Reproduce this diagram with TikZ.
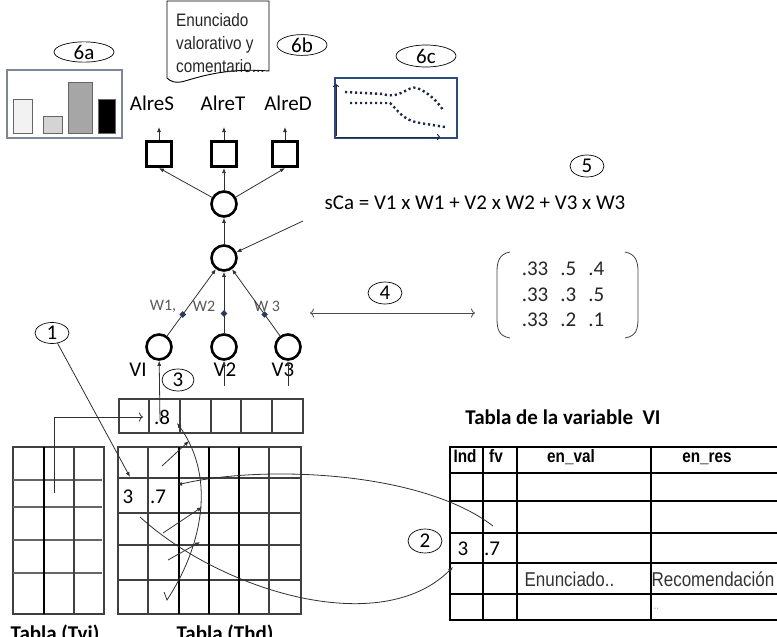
\documentclass[tikz,border=0pt]{standalone}
\usepackage{fontspec}
\setmainfont{Carlito}
\newfontfamily\arialn[FakeStretch=0.85]{Liberation Sans}
\usetikzlibrary{arrows.meta,shapes.geometric}
\newcommand\txtbig{\fontsize{21}{25}\selectfont}
\definecolor{lnk}{HTML}{303030}
\definecolor{navy}{HTML}{2F4A7A}
\definecolor{dotc}{HTML}{1E2A44}
\definecolor{frame}{HTML}{7A8898}

\begin{document}
\begin{tikzpicture}[x=1pt,y=-1pt,font=\txtbig,
  neuron/.style={circle,draw,line width=2.6pt,fill=white,minimum size=25pt,inner sep=0pt},
  outbox/.style={draw,line width=2.6pt,minimum size=25.5pt,inner sep=0pt},
  tag/.style={ellipse,draw,line width=0.7pt,inner sep=0pt,minimum width=34pt,minimum height=22pt},
  link/.style={line width=0.8pt,draw=lnk,-{Latex[length=5pt,width=4pt]}},
  open/.style={line width=0.8pt,draw=lnk,-{To[length=4pt,width=9pt]}},
  wt/.style={diamond,fill=navy!80!black,inner sep=0pt,minimum size=7pt},
  grid/.style={line width=1.1pt,draw=black!75},
  thick grid/.style={line width=2.2pt,draw=black},
  head/.style={font=\arialn\bfseries\fontsize{18}{22}\selectfont,anchor=base},
  cell/.style={font=\arialn\fontsize{20}{24}\selectfont,text=black!80,anchor=west}]
\useasboundingbox (0,0) rectangle (777,637);

\node[neuron] (h1) at (224,204) {};
\node[neuron] (h2) at (224,258) {};
\node[neuron] (v1) at (159,347) {};
\node[neuron] (v2) at (224,347) {};
\node[neuron] (v3) at (288,347) {};
\node[outbox] (o1) at (159,154) {};
\node[outbox] (o2) at (224,154) {};
\node[outbox] (o3) at (285,154) {};
\coordinate (t1) at (159,127);
\coordinate (t2) at (224,127);
\coordinate (t3) at (285,127);
\node (alres) at (152,103) {AlreS};
\node (alret) at (223,103) {AlreT};
\node (alred) at (288,103) {AlreD};
\node (lv1) at (138,370) {VI};
\node (lv2) at (225,370) {V2};
\node (lv3) at (283,370) {V3};
\node[text=black!65,font=\fontsize{16}{19}\selectfont] (w1) at (163,306) {W1,};
\node[text=black!65,font=\fontsize{16}{19}\selectfont] (w2) at (204,306) {W2};
\node[text=black!65,font=\fontsize{16}{19}\selectfont] (w3) at (267,306) {W 3};
\foreach \o/\t in {o1/t1,o2/t2,o3/t3} \draw[link] (\o) -- (\t);
\foreach \o in {o1,o2,o3} \draw[link] (h1) -- (\o.south);
\draw[link] (h2) -- (h1);
\foreach \v in {v1,v2,v3} \draw[link] (\v) -- node[wt,pos=0.32] {} (h2);

\node (fml) at (475,203) {sCa = V1 x W1 + V2 x W2 + V3 x W3};
\coordinate (fs) at (303,221);
\draw[link] (fs) -- (h2);
\node[tag] (n5) at (587,166) {5};
\node[tag] (n4) at (385,293) {4};
\coordinate (dl) at (310,313);
\coordinate (dr) at (475,313);
\draw[line width=0.8pt,draw=black!70,{To[length=4pt,width=9pt]}-{To[length=4pt,width=9pt]}] (dl) -- (dr);
\node[font=\fontsize{21}{25.5}\selectfont,text=black!85] (mtx) at (563,296)
  {\begin{tabular}{@{}l@{\hspace{12pt}}l@{\hspace{12pt}}l@{}}.33&.5&.4\\.33&.3&.5\\.33&.2&.1\end{tabular}};
\draw[line width=0.8pt,black!75] (510,252) .. controls (499,254) and (497,262) .. (497,272) -- (497,318) .. controls (497,330) and (499,336) .. (510,338);
\draw[line width=0.8pt,black!75] (625,252) .. controls (636,254) and (638,262) .. (638,272) -- (638,318) .. controls (638,330) and (636,336) .. (625,338);

\node[tag,minimum width=60pt,minimum height=19pt] (n6a) at (84,52) {6a};
\draw[line width=1.1pt,draw=frame] (7,70) rectangle (122,138);
\draw[line width=0.8pt,draw=black!60,fill=black!5] (13,99) rectangle (32,133);
\draw[line width=0.8pt,draw=black!60,fill=black!17] (43,116) rectangle (62,133);
\draw[line width=0.8pt,draw=black!60,fill=black!35] (68,82) rectangle (92,133);
\draw[line width=0.8pt,draw=black!60,fill=black] (98,99) rectangle (115,133);

\draw[line width=0.9pt,fill=white] (167,1) -- (269,1) -- (269,71) .. controls (230,68) and (205,75) .. (185,81) .. controls (175,84) and (170,81) .. (167,78) -- cycle;
\node[anchor=north west,align=left,inner sep=0pt,font=\arialn\fontsize{18}{23}\selectfont,text=black!85] (note) at (176,13) {Enunciado\\valorativo y\\comentario...};
\node[tag,minimum width=50pt,minimum height=19pt] (n6b) at (302,45) {6b};

\node[tag,minimum width=60pt,minimum height=22pt] (n6c) at (426,56) {6c};
\draw[line width=2.6pt,draw=navy] (335,78) rectangle (457,138);
\draw[line width=1pt,draw=dotc,-{To[length=3pt,width=6pt]}] (336,136) -- (336,84);
\draw[line width=1pt,draw=dotc,-{To[length=3pt,width=6pt]}] (336,137) -- (440,137);
\draw[line width=2.4pt,dotc,dash pattern=on 2.2pt off 2.8pt] (345,92) -- (383,94) .. controls (400,100) and (408,85) .. (417,88) .. controls (428,92) and (438,102) .. (443,110);
\draw[line width=2.4pt,dotc,dash pattern=on 2.2pt off 2.8pt] (350,103) -- (390,103) .. controls (398,110) and (402,120) .. (420,123) -- (445,127);

\draw[grid] (119,399) rectangle (303,433);
\foreach \x in {149,180,211,241,272} \draw[grid] (\x,399) -- (\x,433);
\node (c8) at (162,417) {.8};

\draw[grid] (13,447) rectangle (104,614);
\foreach \y in {480,507,540,573} \draw[grid,draw=black!60] (13,\y) -- (102,\y);
\draw[grid] (74,447) -- (74,614);
\draw[thick grid] (44,447) -- (44,614);

\draw[grid] (118,447) rectangle (301,614);
\foreach \y in {478,513,545,580} \draw[grid] (118,\y) -- (301,\y);
\foreach \x in {148,269} \draw[grid] (\x,447) -- (\x,614);
\foreach \x in {179,209,239} \draw[thick grid] (\x,447) -- (\x,614);
\node (k3) at (128,497) {3};
\node (k7) at (158,497) {.7};

\node[font=\bfseries\fontsize{21}{25}\selectfont,anchor=base] (tvi) at (55,640) {Tabla (Tvi)};
\node[font=\bfseries\fontsize{21}{25}\selectfont,anchor=base] (thd) at (225,640) {Tabla (Thd)};

\node[tag,minimum width=32pt,minimum height=22pt] (n3) at (178,380) {3};
\node[tag,minimum width=34pt,minimum height=21pt] (n1) at (52,333) {1};
\coordinate (p1) at (130,477);
\draw[link] (n1) -- (p1);
\coordinate (tv) at (54,493);
\coordinate (t8) at (143,417);
\draw[open] (tv) |- (t8);
\coordinate (p8) at (160,421);
\draw[link] (p8) -- (v1);
\coordinate (u2) at (224,386);
\coordinate (u3) at (288,386);
\draw[link] (u2) -- (v2);
\draw[link] (u3) -- (v3);

\coordinate (s1) at (162,466); \coordinate (e1) at (189,441);
\coordinate (s2) at (163,533); \coordinate (e2) at (202,507);
\coordinate (s3) at (168,560); \coordinate (e3) at (200,542);
\foreach \s/\e in {s1/e1,s2/e2,s3/e3} \draw[link] (\s) -- (\e);
\coordinate (hk) at (164,592);
\coordinate (b8) at (177,423);
\draw[link] (hk) -- (167,600) .. controls (200,550) and (218,480) .. (b8);

\node[font=\bfseries\fontsize{21}{25}\selectfont] (tvar) at (563,417) {Tabla de la variable\ \ VI};
\draw[grid,draw=black] (780,447) -- (450,447) -- (450,620) -- (780,620);
\foreach \x in {483,517,651} \draw[grid,draw=black] (\x,447) -- (\x,620);
\draw[line width=2.6pt] (450,473) -- (780,473);
\foreach \y in {501,533,563,594} \draw[grid,draw=black] (450,\y) -- (780,\y);
\node[head] (hind) at (465,462) {Ind};
\node[head] (hfv) at (496,462) {fv};
\node[head] (hval) at (571,462) {en\_val};
\node[head] (hres) at (707,462) {en\_res};
\node (r3) at (463,549) {3};
\node (r7) at (492,549) {.7};
\node[cell] (renu) at (521,579) {Enunciado..};
\node[cell] (rrec) at (648,579) {Recomendación};
\node[cell,text=black!35,font=\arialn\fontsize{12}{14}\selectfont] (rdot) at (650,609) {..};

\node[tag,minimum width=34pt,minimum height=24pt] (n2) at (425,541) {2};
\coordinate (q1) at (493,526);
\coordinate (q2) at (177,485);
\draw[link] (q1) .. controls (420,470) and (260,465) .. (q2);
\coordinate (q3) at (140,517);
\coordinate (q4) at (453,567);
\draw[link] (q3) .. controls (220,590) and (380,640) .. (q4);
\end{tikzpicture}
\end{document}
